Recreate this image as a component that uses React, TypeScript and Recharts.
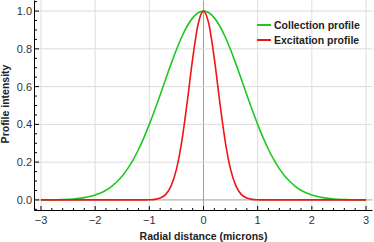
import React from "react";
import { LineChart, Line, XAxis, YAxis, ReferenceLine, Label } from "recharts";

// radial distance samples (microns)
const xs = [
  -3, -2.9, -2.8, -2.7, -2.6, -2.5, -2.4, -2.3, -2.2, -2.1, -2, -1.9, -1.8, -1.7, -1.6, -1.5,
  -1.4, -1.3, -1.2, -1.1, -1, -0.9, -0.8, -0.7, -0.6, -0.5, -0.4, -0.3, -0.2, -0.1, 0, 0.1,
  0.2, 0.3, 0.4, 0.5, 0.6, 0.7, 0.8, 0.9, 1, 1.1, 1.2, 1.3, 1.4, 1.5, 1.6, 1.7, 1.8, 1.9, 2,
  2.1, 2.2, 2.3, 2.4, 2.5, 2.6, 2.7, 2.8, 2.9, 3,
];

const collection = [
  0, 0, 0.001, 0.001, 0.002, 0.003, 0.005, 0.008, 0.012, 0.018, 0.026, 0.037, 0.051, 0.071,
  0.096, 0.127, 0.166, 0.212, 0.267, 0.33, 0.4, 0.476, 0.556, 0.638, 0.719, 0.795, 0.864, 0.921,
  0.964, 0.991, 1, 0.991, 0.964, 0.921, 0.864, 0.795, 0.719, 0.638, 0.556, 0.476, 0.4, 0.33,
  0.267, 0.212, 0.166, 0.127, 0.096, 0.071, 0.051, 0.037, 0.026, 0.018, 0.012, 0.008, 0.005,
  0.003, 0.002, 0.001, 0.001, 0, 0,
];

const excitation = [
  0, 0, 0, 0, 0, 0, 0, 0, 0, 0, 0, 0, 0, 0, 0, 0, 0, 0, 0, 0, 0.001, 0.003, 0.01, 0.028, 0.073,
  0.162, 0.312, 0.52, 0.748, 0.93, 1, 0.93, 0.748, 0.52, 0.312, 0.162, 0.073, 0.028, 0.01, 0.003,
  0.001, 0, 0, 0, 0, 0, 0, 0, 0, 0, 0, 0, 0, 0, 0, 0, 0, 0, 0, 0, 0,
];

const xTicks = [
  -3, -2.8, -2.6, -2.4, -2.2, -2, -1.8, -1.6, -1.4, -1.2, -1, -0.8, -0.6, -0.4, -0.2, 0, 0.2,
  0.4, 0.6, 0.8, 1, 1.2, 1.4, 1.6, 1.8, 2, 2.2, 2.4, 2.6, 2.8, 3,
];
const yTicks = [
  -0.05, 0, 0.05, 0.1, 0.15, 0.2, 0.25, 0.3, 0.35, 0.4, 0.45, 0.5, 0.55, 0.6, 0.65, 0.7, 0.75,
  0.8, 0.85, 0.9, 0.95, 1, 1.05,
];
const xGrid = [-3, -2, -1, 0, 1, 2, 3];
const yGrid = [0, 0.2, 0.4, 0.6, 0.8, 1];

const series = [
  { key: "collection", name: "Collection profile", color: "#1ec81e" },
  { key: "excitation", name: "Excitation profile", color: "#f01414" },
];

const data = xs.map((x, i) => ({ x, collection: collection[i], excitation: excitation[i] }));

const font = "'Liberation Sans', Arial, sans-serif";
const isMajorX = (v: number) => Number.isInteger(v);
const isMajorY = (v: number) => Math.abs(v * 5 - Math.round(v * 5)) < 1e-6;
const fmtX = (v: number) => (v < 0 ? "\u2212" + Math.abs(v) : String(v));

const BottomTick = ({ x, y, payload }: any) => {
  const major = isMajorX(payload.value);
  return (
    <g>
      <line x1={x} x2={x} y1={y} y2={y - (major ? 4.5 : 2.5)} stroke="#000" />
      {major && (
        <text x={x} y={y + 13} textAnchor="middle" fontSize={11} fill="#333" fontFamily={font}>
          {fmtX(payload.value)}
        </text>
      )}
    </g>
  );
};

const TopTick = ({ x, y, payload }: any) => {
  const major = isMajorX(payload.value);
  return <line x1={x} x2={x} y1={y} y2={y + (major ? 4.5 : 2.5)} stroke="#000" />;
};

const LeftTick = ({ x, y, payload }: any) => {
  const major = isMajorY(payload.value);
  return (
    <g>
      <line x1={x} x2={x + (major ? 4.5 : 2.5)} y1={y} y2={y} stroke="#000" />
      {major && (
        <text x={x - 2.5} y={y + 4} textAnchor="end" fontSize={11} fill="#333" fontFamily={font}>
          {payload.value.toFixed(1)}
        </text>
      )}
    </g>
  );
};

const RightTick = ({ x, y, payload }: any) => {
  const major = isMajorY(payload.value);
  return <line x1={x} x2={x - (major ? 4.5 : 2.5)} y1={y} y2={y} stroke="#000" />;
};

export default function App() {
  return (
    <div style={{ position: "relative", width: 374, height: 242 }}>
      <style>{"body{margin:0}"}</style>
      <LineChart width={374} height={242} data={data} margin={{ top: 0.5, right: 1.5, bottom: 0, left: 0 }}>
        <XAxis
          dataKey="x"
          type="number"
          domain={[-3.12, 3.12]}
          allowDataOverflow
          ticks={xTicks}
          interval={0}
          tick={<BottomTick />}
          tickSize={0}
          tickMargin={0}
          tickLine={false}
          height={31.5}
          axisLine={{ stroke: "#000" }}
        >
          <Label
            content={() => (
              <text x={203.5} y={239.5} textAnchor="middle" fontSize={10.5} fontWeight="bold" fill="#222" fontFamily={font}>
                Radial distance (microns)
              </text>
            )}
          />
        </XAxis>
        <XAxis
          xAxisId="top"
          orientation="top"
          type="number"
          domain={[-3.12, 3.12]}
          allowDataOverflow
          ticks={xTicks}
          interval={0}
          tick={<TopTick />}
          tickSize={0}
          tickMargin={0}
          tickLine={false}
          height={0}
          axisLine={{ stroke: "#000" }}
        />
        <YAxis
          type="number"
          domain={[-0.056, 1.056]}
          allowDataOverflow
          ticks={yTicks}
          interval={0}
          tick={<LeftTick />}
          tickSize={0}
          tickMargin={0}
          tickLine={false}
          width={34.5}
          axisLine={{ stroke: "#000" }}
        >
          <Label
            content={() => (
              <text
                x={8.5}
                y={104}
                transform="rotate(-90 8.5 104)"
                textAnchor="middle"
                fontSize={10.5}
                fontWeight="bold"
                fill="#222"
                fontFamily={font}
              >
                Profile intensity
              </text>
            )}
          />
        </YAxis>
        <YAxis
          yAxisId="right"
          orientation="right"
          type="number"
          domain={[-0.056, 1.056]}
          allowDataOverflow
          ticks={yTicks}
          interval={0}
          tick={<RightTick />}
          tickSize={0}
          tickMargin={0}
          tickLine={false}
          width={0}
          axisLine={{ stroke: "#000" }}
        />
        {xGrid.map((v) => (
          <ReferenceLine key={"gx" + v} x={v} stroke={v === 0 ? "#a0a0a0" : "#dcdcdc"} strokeWidth={1} />
        ))}
        {yGrid.map((v) => (
          <ReferenceLine key={"gy" + v} y={v} stroke={v === 0 ? "#a0a0a0" : "#dcdcdc"} strokeWidth={1} />
        ))}
        {series.map((s) => (
          <Line
            key={s.key}
            dataKey={s.key}
            name={s.name}
            type="monotone"
            stroke={s.color}
            strokeWidth={1.6}
            dot={false}
            isAnimationActive={false}
          />
        ))}
      </LineChart>
      <div style={{ position: "absolute", left: 257, top: 17, fontFamily: font, fontSize: 10.5, fontWeight: "bold", color: "#222" }}>
        {series.map((s) => (
          <div key={s.key} style={{ display: "flex", alignItems: "center", height: 15, whiteSpace: "nowrap" }}>
            <span style={{ display: "inline-block", width: 14, height: 2, background: s.color, marginRight: 3 }} />
            {s.name}
          </div>
        ))}
      </div>
    </div>
  );
}
